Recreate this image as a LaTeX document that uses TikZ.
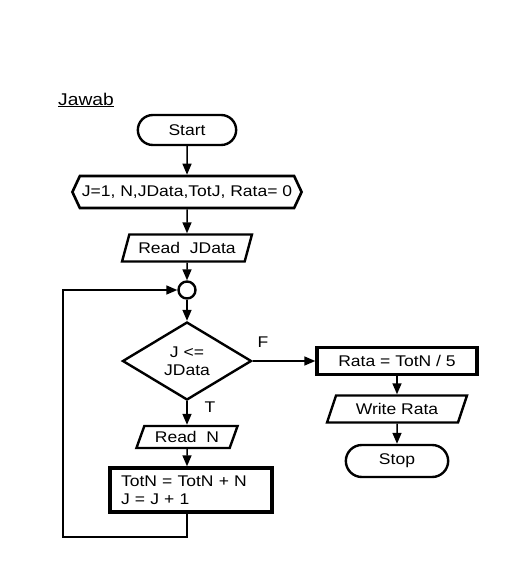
\documentclass[tikz,border=0pt]{standalone}
\usepackage{fontspec}
\setmainfont[FakeStretch=1.13]{Liberation Sans}
\usetikzlibrary{arrows.meta,shapes.geometric,shapes.misc,shapes.symbols}

\begin{document}
\begin{tikzpicture}[x=1pt, y=-1pt,
		every node/.style={font=\fontsize{15.5}{18}\selectfont},
		term/.style={draw, line width=2.4pt, rounded rectangle, minimum width=105pt, minimum height=30pt},
		prep/.style={draw, line width=2.6pt, signal, signal to=west and east, signal pointer angle=130, minimum width=229pt, minimum height=32pt, inner xsep=2pt},
		io/.style={draw, line width=2.4pt, trapezium, trapezium left angle=70, trapezium right angle=110, trapezium stretches=true, minimum height=27pt},
		proc/.style={draw, line width=3.4pt, rectangle},
		dec/.style={draw, line width=2.4pt, diamond, minimum width=129pt, minimum height=78pt, inner sep=0pt, align=center},
		flow/.style={line width=1.5pt, -{Triangle[length=11pt,width=9pt]}}]
			%%%%% START %%%%%
			
			\useasboundingbox (0, 0) rectangle (530, 568);
			
			\node[font=\fontsize{17}{20}\selectfont] (jawab) at (86, 100) {\underline{Jawab}};
			
			\node[term] (start) at (187, 130) {Start};
			\node[prep] (init) at (187, 192) {J=1, N,JData,TotJ, Rata= 0};
			\node[io, minimum width=130pt] (readj) at (187, 248) {Read\ \ JData};
			\node[draw, circle, line width=2.4pt, minimum size=17pt, inner sep=0pt] (join) at (187, 290) {};
			\node[dec] (test) at (187, 361) {J <=\\JData};
			
			\node[io, minimum width=102pt, minimum height=22pt] (readn) at (187, 437) {Read\ \ N};
			\node[proc, minimum width=162pt, minimum height=44pt, text width=140pt, align=left] (calc) at (191, 490) {TotN = TotN + N\\J = J + 1};
			
			\node[proc, minimum width=160pt, minimum height=27pt] (rata) at (397, 361) {Rata = TotN / 5};
			\node[io, minimum width=140pt] (write) at (397, 409) {Write Rata};
			\node[term, minimum width=109pt, minimum height=32pt] (stop) at (397, 461) {Stop};
			
			\node (lf) at (263, 342) {F};
			\node (lt) at (210, 407) {T};
			\coordinate (back) at (63, 537);
			
			\draw[flow] (start) -- (init);
			\draw[flow] (init) -- (readj);
			\draw[flow] (readj) -- (join);
			\draw[flow] (join) -- (test);
			\draw[flow] (test) -- (readn);
			\draw[flow] (readn) -- (readn |- calc.north);
			\draw[flow] (test) -- (rata);
			\draw[flow] (rata) -- (write);
			\draw[flow] (write) -- (stop);
			\draw[flow] (calc.south -| readn) |- (back) |- (join);
			
			%%%%% END %%%%%
		\end{tikzpicture}
\end{document}
